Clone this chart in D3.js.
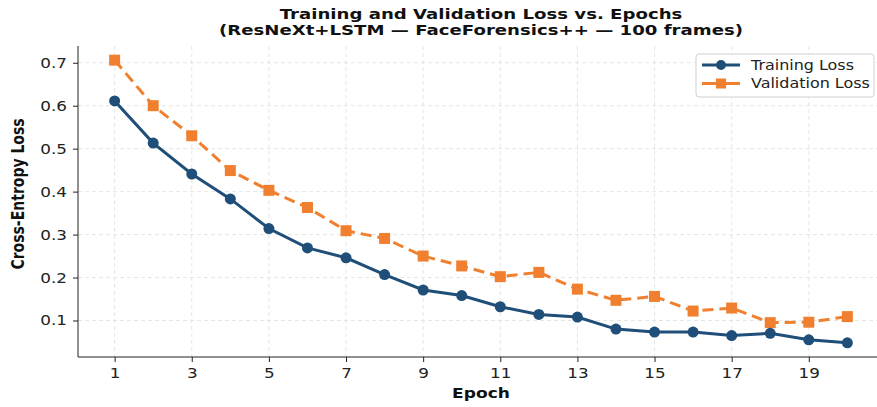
<!DOCTYPE html>
<html><head><meta charset="utf-8">
<script src="https://cdn.jsdelivr.net/npm/d3@7"></script>
<style>body{margin:0;background:#fff}svg{display:block}</style>
</head><body>
<svg id="c" width="877" height="407"></svg>
<script>
const epochs = d3.range(1, 21);
const trainLoss = [0.611,0.513,0.441,0.383,0.314,0.269,0.246,0.207,0.171,0.158,0.132,0.114,0.108,0.080,0.073,0.073,0.065,0.070,0.055,0.048];
const valLoss   = [0.706,0.600,0.530,0.449,0.403,0.363,0.309,0.291,0.250,0.227,0.202,0.212,0.173,0.147,0.156,0.122,0.129,0.095,0.096,0.109];
const xTicks = [1,3,5,7,9,11,13,15,17,19];
const yTicks = [0.1,0.2,0.3,0.4,0.5,0.6,0.7];
const titleLines = ["Training and Validation Loss vs. Epochs", "(ResNeXt+LSTM — FaceForensics++ — 100 frames)"];
const seriesNames = ["Training Loss", "Validation Loss"];

const svg = d3.select("#c");
const L = 78, T = 46, B = 357;
const x = d3.scaleLinear().domain([0.05, 20.95]).range([L, 884]);
const y = d3.scaleLinear().domain([0.015, 0.739]).range([B, T]);
const blue = "#1f4e79", orange = "#f0802f";
const font = "DejaVu Sans, sans-serif";

// stretch text horizontally around its anchor point
function stretch(sel, k) {
  sel.each(function() {
    const t = d3.select(this);
    const tx = +t.attr("x") || 0, ty = +t.attr("y") || 0;
    t.attr("transform", (t.attr("transform") || "") + ` translate(${tx},${ty}) scale(${k},1) translate(${-tx},${-ty})`);
  });
}

// grid
const g = svg.append("g");
g.selectAll(".gx").data(xTicks).join("line")
  .attr("x1", d => x(d)).attr("x2", d => x(d)).attr("y1", T).attr("y2", B)
  .attr("stroke", "#e0e0e0").attr("stroke-width", 0.8).attr("stroke-dasharray", "4,3");
g.selectAll(".gy").data(yTicks).join("line")
  .attr("x1", L).attr("x2", 877).attr("y1", d => y(d)).attr("y2", d => y(d))
  .attr("stroke", "#e0e0e0").attr("stroke-width", 0.8).attr("stroke-dasharray", "4,3");

// axes
const ax = svg.append("g").attr("transform", `translate(0,${B})`)
  .call(d3.axisBottom(x).tickValues(xTicks).tickFormat(d3.format("d")).tickSize(5).tickPadding(6));
ax.select(".domain").attr("d", `M${L},0H877`);
const ay = svg.append("g").attr("transform", `translate(${L},0)`)
  .call(d3.axisLeft(y).tickValues(yTicks).tickFormat(d3.format(".1f")).tickSize(5).tickPadding(6));
ay.select(".domain").attr("d", `M0,${T}V${B}`);
svg.selectAll(".tick text").attr("font-family", font).attr("font-size", 14).attr("fill", "#222");
ay.selectAll(".tick text").attr("x", -11).attr("y", 0).attr("dy", "0.32em");
stretch(svg.selectAll(".tick text"), 1.2);
svg.selectAll(".domain, .tick line").attr("stroke", "#222").attr("stroke-width", 1);

// lines
const line = d3.line().x((d, i) => x(epochs[i])).y(d => y(d));
svg.append("path").datum(valLoss).attr("d", line).attr("fill", "none")
  .attr("stroke", orange).attr("stroke-width", 3).attr("stroke-dasharray", "11,6");
svg.append("path").datum(trainLoss).attr("d", line).attr("fill", "none")
  .attr("stroke", blue).attr("stroke-width", 3);
svg.selectAll(".sq").data(valLoss).join("rect")
  .attr("x", (d, i) => x(epochs[i]) - 5.5).attr("y", d => y(d) - 5.5)
  .attr("width", 11).attr("height", 11).attr("fill", orange);
svg.selectAll(".ci").data(trainLoss).join("circle")
  .attr("cx", (d, i) => x(epochs[i])).attr("cy", d => y(d)).attr("r", 5.5).attr("fill", blue);

// title
const tt = svg.selectAll(".title").data(titleLines).join("text")
  .attr("x", 481).attr("y", (d, i) => 19.5 + i * 16).attr("text-anchor", "middle")
  .attr("font-family", font).attr("font-weight", "bold").attr("font-size", 14.5).attr("fill", "#111").text(d => d);
stretch(tt, 1.25);

// axis labels
const xl = svg.append("text").attr("x", 481).attr("y", 398).attr("text-anchor", "middle")
  .attr("font-family", font).attr("font-weight", "bold").attr("font-size", 14).attr("fill", "#111").text("Epoch");
stretch(xl, 1.22);
svg.append("text").attr("transform", "translate(24,194) scale(1.2,1) rotate(-90)").attr("text-anchor", "middle")
  .attr("font-family", font).attr("font-weight", "bold").attr("font-size", 14).attr("fill", "#111").text("Cross-Entropy Loss");

// legend
const lg = svg.append("g");
lg.append("rect").attr("x", 696).attr("y", 54).attr("width", 178).attr("height", 43).attr("rx", 3)
  .attr("fill", "#fff").attr("fill-opacity", 0.9).attr("stroke", "#d0d0d0");
seriesNames.forEach((n, i) => {
  const yy = 65 + i * 18.5;
  const c = i === 0 ? blue : orange;
  lg.append("line").attr("x1", 702).attr("x2", 740).attr("y1", yy).attr("y2", yy).attr("stroke", c).attr("stroke-width", 3);
  if (i === 0) lg.append("circle").attr("cx", 721).attr("cy", yy).attr("r", 5).attr("fill", c);
  else lg.append("rect").attr("x", 716).attr("y", yy - 5).attr("width", 10).attr("height", 10).attr("fill", c);
  const t = lg.append("text").attr("x", 751).attr("y", yy + 5).attr("font-family", font).attr("font-size", 14).attr("fill", "#222").text(n);
  stretch(t, 1.14);
});
</script>
</body></html>
